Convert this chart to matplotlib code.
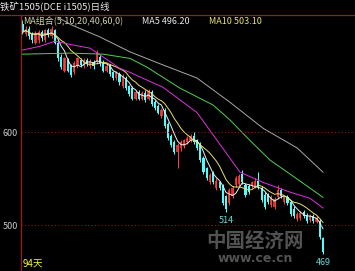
import numpy as np
import pandas as pd
import matplotlib
matplotlib.use('Agg')
import matplotlib.pyplot as plt
from matplotlib.lines import Line2D

plt.rcParams['font.family'] = ['Noto Sans CJK SC', 'DejaVu Sans']

# 铁矿1505 日线: 开盘, 收盘, 最高, 最低
opens = [716, 705, 711, 705, 696, 699, 707, 699, 709, 703,
         709, 696, 681, 666, 677, 671, 664, 671, 677, 671,
         677, 671, 675, 675, 681, 675, 666, 671, 664, 658,
         662, 649, 658, 649, 647, 636, 643, 636, 642, 636,
         643, 632, 628, 617, 624, 609, 596, 589, 579, 583,
         585, 589, 591, 596, 591, 587, 572, 561, 546, 556,
         540, 546, 542, 531, 524, 531, 543, 544, 555, 543,
         542, 542, 542, 548, 540, 533, 532, 522, 520, 530,
         538, 525, 530, 525, 518, 507, 508, 514, 511, 506,
         510, 504, 505, 486]
closes = [707, 711, 703, 699, 706, 707, 701, 709, 704, 711,
          696, 679, 670, 679, 666, 661, 674, 679, 672, 677,
          673, 676, 671, 685, 673, 666, 671, 662, 658, 664,
          654, 660, 647, 641, 636, 643, 636, 642, 634, 644,
          630, 626, 621, 624, 606, 594, 586, 579, 586, 589,
          591, 594, 596, 589, 583, 570, 557, 551, 554, 546,
          548, 540, 524, 518, 538, 540, 551, 553, 546, 532,
          536, 546, 548, 541, 527, 520, 525, 530, 528, 538,
          531, 530, 524, 512, 510, 512, 513, 510, 505, 510,
          505, 508, 487, 471]
highs = [720, 714, 714, 707, 708, 709, 710, 711, 712, 714,
         711, 699, 684, 681, 679, 673, 676, 681, 680, 679,
         679, 678, 677, 688, 683, 677, 673, 673, 666, 666,
         664, 662, 660, 651, 649, 645, 645, 644, 645, 646,
         645, 634, 630, 626, 626, 611, 598, 591, 588, 591,
         593, 596, 598, 600, 593, 589, 574, 563, 556, 558,
         551, 548, 544, 533, 540, 542, 553, 555, 559, 545,
         544, 548, 551, 557, 542, 536, 535, 532, 530, 543,
         540, 532, 532, 527, 521, 514, 515, 516, 513, 512,
         512, 510, 507, 488]
lows = [705, 703, 700, 696, 694, 696, 698, 697, 702, 701,
        694, 676, 668, 664, 664, 659, 662, 669, 670, 669,
        671, 669, 668, 673, 671, 664, 664, 660, 656, 656,
        651, 647, 645, 639, 634, 634, 634, 634, 632, 634,
        628, 624, 619, 615, 604, 591, 584, 576, 561, 580,
        583, 587, 589, 587, 581, 568, 555, 549, 544, 544,
        538, 538, 522, 514, 522, 529, 541, 542, 544, 530,
        534, 540, 540, 539, 525, 517, 523, 520, 517, 528,
        529, 523, 522, 510, 508, 505, 506, 508, 503, 504,
        503, 502, 485, 469]

# 长周期均线 (读图所得的节点: K线序号, 价格)
ma20_pos = [0, 5.4, 10, 16.3, 20.9, 25, 30, 33.3, 43.5, 54, 59, 64.2, 67.3, 74.5, 82.8, 89, 93]
ma20_val = [688, 692, 697.5, 693, 690, 680.5, 668.6, 664, 648, 621, 597, 572, 557, 546, 535.6, 529, 518.5]
ma40_pos = [0, 14.7, 25, 33.3, 38.5, 48.8, 59, 64.2, 70.4, 76.6, 85, 93]
ma40_val = [683.6, 684.7, 683.6, 679, 669.7, 647, 629, 613, 591, 570, 549.6, 530]
ma60_pos = [11, 15.3, 24, 33.3, 43.5, 54, 64.2, 74.5, 85, 93]
ma60_val = [723, 714.7, 702, 686, 672, 658, 632, 604, 583, 557]

low_marks = [63, 93]
days_label = '94天'

RED = '#ff3c3c'
CYAN = '#54fcfc'

W, H = 355, 271
fig = plt.figure(figsize=(W / 100, H / 100), dpi=100, facecolor='black')
ax = fig.add_axes([21 / W, 0, 1 - 21 / W, 1 - 15 / H], facecolor='black')

o = np.array(opens, float)
c = np.array(closes, float)
hi = np.array(highs, float)
lo = np.array(lows, float)
idx = np.arange(len(c))
up = c >= o

ax.vlines(idx[up], lo[up], hi[up], color=RED, lw=0.75)
ax.vlines(idx[~up], lo[~up], hi[~up], color=CYAN, lw=0.75)
ax.bar(idx[up], c[up] - o[up], bottom=o[up], width=0.68, color='#d83030', lw=0)
ax.bar(idx[~up], o[~up] - c[~up], bottom=c[~up], width=0.68, color=CYAN, lw=0)

s = pd.Series(c)
ma5 = s.rolling(5, min_periods=1).mean()
ma10 = s.rolling(10, min_periods=1).mean()
ax.plot(idx, ma5, color='#f0f0f0', lw=0.7)
ax.plot(idx, ma10, color='#e8e070', lw=0.7)
ax.plot(ma20_pos, ma20_val, color='#e030e0', lw=0.7)
ax.plot(ma40_pos, ma40_val, color='#50d050', lw=0.7)
ax.plot(ma60_pos, ma60_val, color='#a8a8a8', lw=0.7)

for lvl in (500, 600):
    ax.axhline(lvl, color='#8a1c1c', lw=0.8, ls=(0, (1, 2)))

for i in low_marks:
    ax.annotate(f'{int(lows[i])}', xy=(i, lows[i]), xytext=(0, -6),
                textcoords='offset points', ha='center', va='center',
                color='#66d8d8', fontsize=6.5)

ax.set_xlim(-0.46, 102.9)
ax.set_ylim(451, 725.6)
ax.set_xticks([])
ax.set_yticks([500, 600])
ax.tick_params(axis='y', length=0, labelcolor='#c8c8c8', labelsize=6.5, pad=2)
for sp in ('top', 'right', 'bottom'):
    ax.spines[sp].set_visible(False)
ax.spines['left'].set_color('#a01818')
ax.spines['left'].set_linewidth(0.9)

fig.add_artist(Line2D([0, 1], [1 - 15 / H] * 2, transform=fig.transFigure,
                      color='#a01818', lw=0.9))

fig.text(0, 1 - 7 / H, '铁矿1505(DCE i1505)日线', color='#e8e8e8',
         fontsize=6.8, va='center', ha='left')
fig.text(23 / W, 1 - 22 / H, 'MA组合(5,10,20,40,60,0)', color='#d0d0a8',
         fontsize=6.5, va='center', ha='left')
fig.text(142 / W, 1 - 22 / H, f'MA5 {ma5.iloc[-1]:.2f}', color='#e8e8e8',
         fontsize=6.5, va='center', ha='left')
fig.text(209 / W, 1 - 22 / H, f'MA10 {ma10.iloc[-1]:.2f}', color='#e8e070',
         fontsize=6.5, va='center', ha='left')
ax.text(0.005, 0.03, days_label, transform=ax.transAxes, color='#f0f040',
        fontsize=7, va='center', ha='left')

# 水印
ax.text(0.70, 0.115, '中国经济网', transform=ax.transAxes, color='#8a8a8a',
        alpha=0.6, fontsize=14, fontweight='bold', ha='center', va='center')
ax.text(0.70, 0.048, 'www.ce.cn', transform=ax.transAxes, color='#8a8a8a',
        alpha=0.6, fontsize=9, fontweight='bold', ha='center', va='center',
        family='DejaVu Sans')

fig.savefig('out.png', dpi=100, facecolor='black')
